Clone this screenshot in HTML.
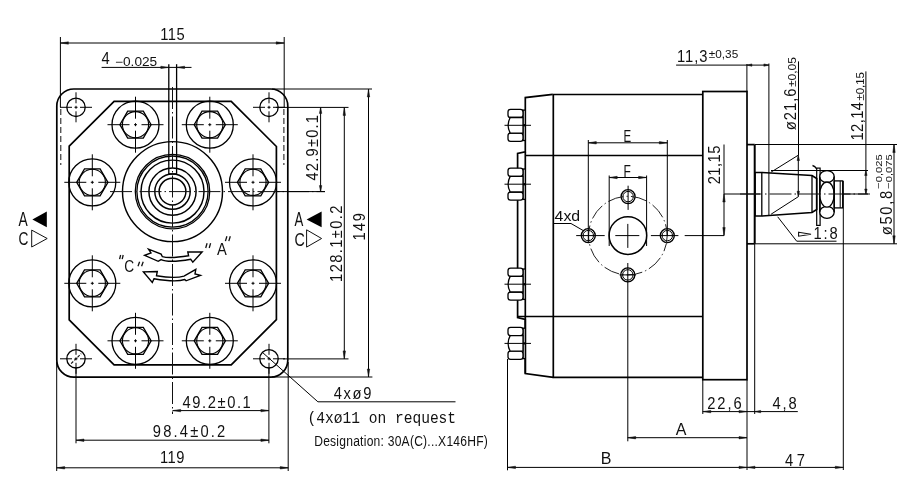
<!DOCTYPE html>
<html><head><meta charset="utf-8"><title>Gear pump drawing</title>
<style>
html,body{margin:0;padding:0;background:#fff;width:900px;height:497px;overflow:hidden;}
svg{display:block;filter:grayscale(1);}
text{font-family:"Liberation Sans",sans-serif;}
</style></head><body>
<svg width="900" height="497" viewBox="0 0 900 497">
<rect width="900" height="497" fill="#fff"/>
<rect x="56.8" y="89" width="231" height="288.2" rx="17" ry="17" stroke="#000" stroke-width="1.7" fill="none"/>
<line x1="60.8" y1="109.0" x2="60.8" y2="165.0" stroke="#111" stroke-width="1.0" fill="none" stroke-dasharray="6 3"/>
<line x1="283.9" y1="109.0" x2="283.9" y2="165.0" stroke="#111" stroke-width="1.0" fill="none" stroke-dasharray="6 3"/>
<path d="M114.1,101.3 L231.2,101.3 L276.4,146.5 L276.4,319.6 L231.2,364.8 L114.1,364.8 L69.2,319.9 L69.2,146.2 Z" stroke="#000" stroke-width="1.7" fill="none"/>
<circle cx="76.0" cy="107.3" r="9.2" stroke="#000" stroke-width="1.3" fill="none"/>
<line x1="60.0" y1="107.3" x2="72.0" y2="107.3" stroke="#000" stroke-width="1.0" fill="none"/>
<line x1="74.5" y1="107.3" x2="77.5" y2="107.3" stroke="#000" stroke-width="1.0" fill="none"/>
<line x1="80.0" y1="107.3" x2="92.0" y2="107.3" stroke="#000" stroke-width="1.0" fill="none"/>
<line x1="76.0" y1="92.3" x2="76.0" y2="103.3" stroke="#000" stroke-width="1.0" fill="none"/>
<line x1="76.0" y1="105.8" x2="76.0" y2="108.8" stroke="#000" stroke-width="1.0" fill="none"/>
<line x1="76.0" y1="111.3" x2="76.0" y2="122.3" stroke="#000" stroke-width="1.0" fill="none"/>
<circle cx="269.0" cy="107.3" r="9.2" stroke="#000" stroke-width="1.3" fill="none"/>
<line x1="253.0" y1="107.3" x2="265.0" y2="107.3" stroke="#000" stroke-width="1.0" fill="none"/>
<line x1="267.5" y1="107.3" x2="270.5" y2="107.3" stroke="#000" stroke-width="1.0" fill="none"/>
<line x1="273.0" y1="107.3" x2="285.0" y2="107.3" stroke="#000" stroke-width="1.0" fill="none"/>
<line x1="269.0" y1="92.3" x2="269.0" y2="103.3" stroke="#000" stroke-width="1.0" fill="none"/>
<line x1="269.0" y1="105.8" x2="269.0" y2="108.8" stroke="#000" stroke-width="1.0" fill="none"/>
<line x1="269.0" y1="111.3" x2="269.0" y2="122.3" stroke="#000" stroke-width="1.0" fill="none"/>
<circle cx="76.0" cy="358.8" r="9.2" stroke="#000" stroke-width="1.3" fill="none"/>
<line x1="60.0" y1="358.8" x2="72.0" y2="358.8" stroke="#000" stroke-width="1.0" fill="none"/>
<line x1="74.5" y1="358.8" x2="77.5" y2="358.8" stroke="#000" stroke-width="1.0" fill="none"/>
<line x1="80.0" y1="358.8" x2="92.0" y2="358.8" stroke="#000" stroke-width="1.0" fill="none"/>
<line x1="76.0" y1="343.8" x2="76.0" y2="354.8" stroke="#000" stroke-width="1.0" fill="none"/>
<line x1="76.0" y1="357.3" x2="76.0" y2="360.3" stroke="#000" stroke-width="1.0" fill="none"/>
<line x1="76.0" y1="362.8" x2="76.0" y2="373.8" stroke="#000" stroke-width="1.0" fill="none"/>
<circle cx="269.0" cy="358.8" r="9.2" stroke="#000" stroke-width="1.3" fill="none"/>
<line x1="253.0" y1="358.8" x2="265.0" y2="358.8" stroke="#000" stroke-width="1.0" fill="none"/>
<line x1="267.5" y1="358.8" x2="270.5" y2="358.8" stroke="#000" stroke-width="1.0" fill="none"/>
<line x1="273.0" y1="358.8" x2="285.0" y2="358.8" stroke="#000" stroke-width="1.0" fill="none"/>
<line x1="269.0" y1="343.8" x2="269.0" y2="354.8" stroke="#000" stroke-width="1.0" fill="none"/>
<line x1="269.0" y1="357.3" x2="269.0" y2="360.3" stroke="#000" stroke-width="1.0" fill="none"/>
<line x1="269.0" y1="362.8" x2="269.0" y2="373.8" stroke="#000" stroke-width="1.0" fill="none"/>
<circle cx="135.5" cy="124.7" r="23.5" stroke="#000" stroke-width="1.3" fill="none"/>
<path d="M151.1,124.7 L143.3,138.2 L127.7,138.2 L119.9,124.7 L127.7,111.2 L143.3,111.2 Z" stroke="#000" stroke-width="1.3" fill="none"/>
<circle cx="135.5" cy="124.7" r="13.1" stroke="#000" stroke-width="1.1" fill="none"/>
<line x1="107.5" y1="124.7" x2="129.5" y2="124.7" stroke="#000" stroke-width="1.0" fill="none"/>
<line x1="134.0" y1="124.7" x2="137.0" y2="124.7" stroke="#000" stroke-width="1.0" fill="none"/>
<line x1="141.5" y1="124.7" x2="163.5" y2="124.7" stroke="#000" stroke-width="1.0" fill="none"/>
<line x1="135.5" y1="96.7" x2="135.5" y2="118.7" stroke="#000" stroke-width="1.0" fill="none"/>
<line x1="135.5" y1="123.2" x2="135.5" y2="126.2" stroke="#000" stroke-width="1.0" fill="none"/>
<line x1="135.5" y1="130.7" x2="135.5" y2="152.7" stroke="#000" stroke-width="1.0" fill="none"/>
<circle cx="209.8" cy="124.7" r="23.5" stroke="#000" stroke-width="1.3" fill="none"/>
<path d="M225.4,124.7 L217.6,138.2 L202.0,138.2 L194.2,124.7 L202.0,111.2 L217.6,111.2 Z" stroke="#000" stroke-width="1.3" fill="none"/>
<circle cx="209.8" cy="124.7" r="13.1" stroke="#000" stroke-width="1.1" fill="none"/>
<line x1="181.8" y1="124.7" x2="203.8" y2="124.7" stroke="#000" stroke-width="1.0" fill="none"/>
<line x1="208.3" y1="124.7" x2="211.3" y2="124.7" stroke="#000" stroke-width="1.0" fill="none"/>
<line x1="215.8" y1="124.7" x2="237.8" y2="124.7" stroke="#000" stroke-width="1.0" fill="none"/>
<line x1="209.8" y1="96.7" x2="209.8" y2="118.7" stroke="#000" stroke-width="1.0" fill="none"/>
<line x1="209.8" y1="123.2" x2="209.8" y2="126.2" stroke="#000" stroke-width="1.0" fill="none"/>
<line x1="209.8" y1="130.7" x2="209.8" y2="152.7" stroke="#000" stroke-width="1.0" fill="none"/>
<circle cx="92.3" cy="182.3" r="23.5" stroke="#000" stroke-width="1.3" fill="none"/>
<path d="M107.9,182.3 L100.1,195.8 L84.5,195.8 L76.7,182.3 L84.5,168.8 L100.1,168.8 Z" stroke="#000" stroke-width="1.3" fill="none"/>
<circle cx="92.3" cy="182.3" r="13.1" stroke="#000" stroke-width="1.1" fill="none"/>
<line x1="64.3" y1="182.3" x2="86.3" y2="182.3" stroke="#000" stroke-width="1.0" fill="none"/>
<line x1="90.8" y1="182.3" x2="93.8" y2="182.3" stroke="#000" stroke-width="1.0" fill="none"/>
<line x1="98.3" y1="182.3" x2="120.3" y2="182.3" stroke="#000" stroke-width="1.0" fill="none"/>
<line x1="92.3" y1="154.3" x2="92.3" y2="176.3" stroke="#000" stroke-width="1.0" fill="none"/>
<line x1="92.3" y1="180.8" x2="92.3" y2="183.8" stroke="#000" stroke-width="1.0" fill="none"/>
<line x1="92.3" y1="188.3" x2="92.3" y2="210.3" stroke="#000" stroke-width="1.0" fill="none"/>
<circle cx="253.0" cy="182.3" r="23.5" stroke="#000" stroke-width="1.3" fill="none"/>
<path d="M268.6,182.3 L260.8,195.8 L245.2,195.8 L237.4,182.3 L245.2,168.8 L260.8,168.8 Z" stroke="#000" stroke-width="1.3" fill="none"/>
<circle cx="253.0" cy="182.3" r="13.1" stroke="#000" stroke-width="1.1" fill="none"/>
<line x1="225.0" y1="182.3" x2="247.0" y2="182.3" stroke="#000" stroke-width="1.0" fill="none"/>
<line x1="251.5" y1="182.3" x2="254.5" y2="182.3" stroke="#000" stroke-width="1.0" fill="none"/>
<line x1="259.0" y1="182.3" x2="281.0" y2="182.3" stroke="#000" stroke-width="1.0" fill="none"/>
<line x1="253.0" y1="154.3" x2="253.0" y2="176.3" stroke="#000" stroke-width="1.0" fill="none"/>
<line x1="253.0" y1="180.8" x2="253.0" y2="183.8" stroke="#000" stroke-width="1.0" fill="none"/>
<line x1="253.0" y1="188.3" x2="253.0" y2="210.3" stroke="#000" stroke-width="1.0" fill="none"/>
<circle cx="92.3" cy="283.3" r="23.5" stroke="#000" stroke-width="1.3" fill="none"/>
<path d="M107.9,283.3 L100.1,296.8 L84.5,296.8 L76.7,283.3 L84.5,269.8 L100.1,269.8 Z" stroke="#000" stroke-width="1.3" fill="none"/>
<circle cx="92.3" cy="283.3" r="13.1" stroke="#000" stroke-width="1.1" fill="none"/>
<line x1="64.3" y1="283.3" x2="86.3" y2="283.3" stroke="#000" stroke-width="1.0" fill="none"/>
<line x1="90.8" y1="283.3" x2="93.8" y2="283.3" stroke="#000" stroke-width="1.0" fill="none"/>
<line x1="98.3" y1="283.3" x2="120.3" y2="283.3" stroke="#000" stroke-width="1.0" fill="none"/>
<line x1="92.3" y1="255.3" x2="92.3" y2="277.3" stroke="#000" stroke-width="1.0" fill="none"/>
<line x1="92.3" y1="281.8" x2="92.3" y2="284.8" stroke="#000" stroke-width="1.0" fill="none"/>
<line x1="92.3" y1="289.3" x2="92.3" y2="311.3" stroke="#000" stroke-width="1.0" fill="none"/>
<circle cx="253.0" cy="283.3" r="23.5" stroke="#000" stroke-width="1.3" fill="none"/>
<path d="M268.6,283.3 L260.8,296.8 L245.2,296.8 L237.4,283.3 L245.2,269.8 L260.8,269.8 Z" stroke="#000" stroke-width="1.3" fill="none"/>
<circle cx="253.0" cy="283.3" r="13.1" stroke="#000" stroke-width="1.1" fill="none"/>
<line x1="225.0" y1="283.3" x2="247.0" y2="283.3" stroke="#000" stroke-width="1.0" fill="none"/>
<line x1="251.5" y1="283.3" x2="254.5" y2="283.3" stroke="#000" stroke-width="1.0" fill="none"/>
<line x1="259.0" y1="283.3" x2="281.0" y2="283.3" stroke="#000" stroke-width="1.0" fill="none"/>
<line x1="253.0" y1="255.3" x2="253.0" y2="277.3" stroke="#000" stroke-width="1.0" fill="none"/>
<line x1="253.0" y1="281.8" x2="253.0" y2="284.8" stroke="#000" stroke-width="1.0" fill="none"/>
<line x1="253.0" y1="289.3" x2="253.0" y2="311.3" stroke="#000" stroke-width="1.0" fill="none"/>
<circle cx="135.5" cy="340.8" r="23.5" stroke="#000" stroke-width="1.3" fill="none"/>
<path d="M151.1,340.8 L143.3,354.3 L127.7,354.3 L119.9,340.8 L127.7,327.3 L143.3,327.3 Z" stroke="#000" stroke-width="1.3" fill="none"/>
<circle cx="135.5" cy="340.8" r="13.1" stroke="#000" stroke-width="1.1" fill="none"/>
<line x1="107.5" y1="340.8" x2="129.5" y2="340.8" stroke="#000" stroke-width="1.0" fill="none"/>
<line x1="134.0" y1="340.8" x2="137.0" y2="340.8" stroke="#000" stroke-width="1.0" fill="none"/>
<line x1="141.5" y1="340.8" x2="163.5" y2="340.8" stroke="#000" stroke-width="1.0" fill="none"/>
<line x1="135.5" y1="312.8" x2="135.5" y2="334.8" stroke="#000" stroke-width="1.0" fill="none"/>
<line x1="135.5" y1="339.3" x2="135.5" y2="342.3" stroke="#000" stroke-width="1.0" fill="none"/>
<line x1="135.5" y1="346.8" x2="135.5" y2="368.8" stroke="#000" stroke-width="1.0" fill="none"/>
<circle cx="209.8" cy="340.8" r="23.5" stroke="#000" stroke-width="1.3" fill="none"/>
<path d="M225.4,340.8 L217.6,354.3 L202.0,354.3 L194.2,340.8 L202.0,327.3 L217.6,327.3 Z" stroke="#000" stroke-width="1.3" fill="none"/>
<circle cx="209.8" cy="340.8" r="13.1" stroke="#000" stroke-width="1.1" fill="none"/>
<line x1="181.8" y1="340.8" x2="203.8" y2="340.8" stroke="#000" stroke-width="1.0" fill="none"/>
<line x1="208.3" y1="340.8" x2="211.3" y2="340.8" stroke="#000" stroke-width="1.0" fill="none"/>
<line x1="215.8" y1="340.8" x2="237.8" y2="340.8" stroke="#000" stroke-width="1.0" fill="none"/>
<line x1="209.8" y1="312.8" x2="209.8" y2="334.8" stroke="#000" stroke-width="1.0" fill="none"/>
<line x1="209.8" y1="339.3" x2="209.8" y2="342.3" stroke="#000" stroke-width="1.0" fill="none"/>
<line x1="209.8" y1="346.8" x2="209.8" y2="368.8" stroke="#000" stroke-width="1.0" fill="none"/>
<circle cx="172.5" cy="191.6" r="50.0" stroke="#000" stroke-width="1.45" fill="none"/>
<circle cx="172.5" cy="191.6" r="37.2" stroke="#000" stroke-width="1.3" fill="none"/>
<circle cx="172.5" cy="191.6" r="35.6" stroke="#000" stroke-width="1.3" fill="none"/>
<circle cx="172.5" cy="191.6" r="31.5" stroke="#000" stroke-width="1.45" fill="none"/>
<circle cx="172.5" cy="191.6" r="23.6" stroke="#000" stroke-width="1.45" fill="none"/>
<circle cx="172.5" cy="191.6" r="17.7" stroke="#000" stroke-width="1.45" fill="none"/>
<circle cx="172.5" cy="191.6" r="13.4" stroke="#000" stroke-width="1.45" fill="none"/>
<line x1="168.8" y1="64.2" x2="168.8" y2="173.9" stroke="#000" stroke-width="1.3" fill="none"/>
<line x1="176.6" y1="64.2" x2="176.6" y2="173.9" stroke="#000" stroke-width="1.3" fill="none"/>
<line x1="168.8" y1="173.9" x2="176.6" y2="173.9" stroke="#000" stroke-width="1.3" fill="none"/>
<line x1="172.5" y1="87.0" x2="172.5" y2="414.0" stroke="#111" stroke-width="1.0" fill="none" stroke-dasharray="22 3 1.5 3"/>
<line x1="110.0" y1="191.6" x2="325.0" y2="191.6" stroke="#111" stroke-width="1.0" fill="none" stroke-dasharray="22 3 1.5 3"/>
<line x1="60.4" y1="37.0" x2="60.4" y2="107.3" stroke="#000" stroke-width="1.0" fill="none"/>
<line x1="284.2" y1="37.0" x2="284.2" y2="107.3" stroke="#000" stroke-width="1.0" fill="none"/>
<line x1="60.4" y1="43.0" x2="284.2" y2="43.0" stroke="#000" stroke-width="1.0" fill="none"/>
<path d="M60.4,43.0 L68.4,41.8 L68.4,44.2 Z" fill="#111" stroke="#111" stroke-width="0.5"/>
<path d="M284.2,43.0 L276.2,44.2 L276.2,41.8 Z" fill="#111" stroke="#111" stroke-width="0.5"/>
<text transform="translate(160.3,39.6) scale(0.92,1)" x="0" y="0" font-size="16" textLength="26.5" lengthAdjust="spacing" fill="#111">115</text>
<line x1="101.6" y1="67.4" x2="191.5" y2="67.4" stroke="#000" stroke-width="1.0" fill="none"/>
<path d="M168.8,67.4 L160.8,68.6 L160.8,66.2 Z" fill="#111" stroke="#111" stroke-width="0.5"/>
<path d="M176.6,67.4 L184.6,66.2 L184.6,68.6 Z" fill="#111" stroke="#111" stroke-width="0.5"/>
<text transform="translate(101.6,63.9) scale(0.92,1)" x="0" y="0" font-size="16" textLength="9.3" lengthAdjust="spacing" fill="#111">4</text>
<text transform="translate(115.0,65.8)" x="0" y="0" font-size="12" textLength="42.2" lengthAdjust="spacingAndGlyphs" fill="#111">−0.025</text>
<line x1="272.0" y1="89.0" x2="372.0" y2="89.0" stroke="#000" stroke-width="1.0" fill="none"/>
<line x1="276.0" y1="107.4" x2="348.5" y2="107.4" stroke="#000" stroke-width="1.0" fill="none"/>
<line x1="283.0" y1="358.9" x2="348.5" y2="358.9" stroke="#000" stroke-width="1.0" fill="none"/>
<line x1="272.0" y1="377.0" x2="372.4" y2="377.0" stroke="#000" stroke-width="1.0" fill="none"/>
<line x1="325.0" y1="191.6" x2="325.0" y2="191.6" stroke="#000" stroke-width="1.0" fill="none"/>
<line x1="277.0" y1="191.6" x2="325.0" y2="191.6" stroke="#000" stroke-width="1.0" fill="none"/>
<line x1="320.6" y1="107.4" x2="320.6" y2="191.6" stroke="#000" stroke-width="1.0" fill="none"/>
<path d="M320.6,107.4 L321.8,113.4 L319.4,113.4 Z" fill="#111" stroke="#111" stroke-width="0.5"/>
<path d="M320.6,191.6 L319.4,185.6 L321.8,185.6 Z" fill="#111" stroke="#111" stroke-width="0.5"/>
<text transform="translate(317.5,180.5) rotate(-90) scale(0.92,1)" x="0" y="0" font-size="16" textLength="71.2" lengthAdjust="spacing" fill="#111">42.9±0.1</text>
<line x1="344.3" y1="107.4" x2="344.3" y2="358.9" stroke="#000" stroke-width="1.0" fill="none"/>
<path d="M344.3,107.4 L345.5,115.4 L343.1,115.4 Z" fill="#111" stroke="#111" stroke-width="0.5"/>
<path d="M344.3,358.9 L343.1,350.9 L345.5,350.9 Z" fill="#111" stroke="#111" stroke-width="0.5"/>
<text transform="translate(341.5,281.9) rotate(-90) scale(0.92,1)" x="0" y="0" font-size="16" textLength="83.0" lengthAdjust="spacing" fill="#111">128.1±0.2</text>
<line x1="368.5" y1="89.0" x2="368.5" y2="377.0" stroke="#000" stroke-width="1.0" fill="none"/>
<path d="M368.5,89.0 L369.7,97.0 L367.3,97.0 Z" fill="#111" stroke="#111" stroke-width="0.5"/>
<path d="M368.5,377.0 L367.3,369.0 L369.7,369.0 Z" fill="#111" stroke="#111" stroke-width="0.5"/>
<text transform="translate(365.2,240.6) rotate(-90) scale(0.92,1)" x="0" y="0" font-size="16" textLength="29.9" lengthAdjust="spacing" fill="#111">149</text>
<text transform="translate(18.6,226.3)" x="0" y="0" font-size="19.8" textLength="9.2" lengthAdjust="spacingAndGlyphs" fill="#111">A</text>
<path d="M32.4,219.4 L46.8,211.4 L46.8,227.3 Z" fill="#000"/>
<text transform="translate(18.4,245.1)" x="0" y="0" font-size="18.6" textLength="9.9" lengthAdjust="spacingAndGlyphs" fill="#111">C</text>
<path d="M31.7,230.1 L47.2,238.5 L31.7,247 Z" fill="none" stroke="#111" stroke-width="1"/>
<text transform="translate(294.6,226.0)" x="0" y="0" font-size="19.5" textLength="8.8" lengthAdjust="spacingAndGlyphs" fill="#111">A</text>
<path d="M306.6,219.4 L321.6,211.5 L321.6,227.2 Z" fill="#000"/>
<text transform="translate(294.4,246.0)" x="0" y="0" font-size="19" textLength="10.3" lengthAdjust="spacingAndGlyphs" fill="#111">C</text>
<path d="M306.6,229.8 L321.6,238.5 L306.6,247.1 Z" fill="none" stroke="#111" stroke-width="1"/>
<line x1="120.6" y1="255.0" x2="119.6" y2="259.2" stroke="#111" stroke-width="1.3"/>
<line x1="123.2" y1="255.0" x2="122.2" y2="259.2" stroke="#111" stroke-width="1.3"/>
<line x1="139.6" y1="261.7" x2="138.0" y2="266.2" stroke="#111" stroke-width="1.3"/>
<line x1="143.2" y1="261.7" x2="141.6" y2="266.2" stroke="#111" stroke-width="1.3"/>
<line x1="207.1" y1="243.2" x2="205.7" y2="248.0" stroke="#111" stroke-width="1.3"/>
<line x1="210.6" y1="243.2" x2="209.2" y2="248.0" stroke="#111" stroke-width="1.3"/>
<line x1="226.9" y1="236.3" x2="225.4" y2="241.1" stroke="#111" stroke-width="1.3"/>
<line x1="230.3" y1="236.3" x2="228.8" y2="241.1" stroke="#111" stroke-width="1.3"/>
<text transform="translate(124.2,272.2)" x="0" y="0" font-size="17" textLength="9.9" lengthAdjust="spacingAndGlyphs" fill="#111">C</text>
<text transform="translate(216.9,255.0)" x="0" y="0" font-size="16.5" textLength="9.8" lengthAdjust="spacingAndGlyphs" fill="#111">A</text>
<path d="M162.4,256.7 Q169.5,258.8 188.6,255.8 L187.8,252 L202.1,252 L192.8,262.2 L190.7,259.2 Q169.1,263.2 161.1,259.6 L158.2,261.3 L144.6,255.4 L151,252.9 L148.5,249.1 L161.1,254.1 Z" stroke="#000" stroke-width="1.4" fill="none" stroke-linejoin="miter"/>
<path d="M156.5,275.7 Q174.8,278.9 184,276.1 L195.8,269.4 L195,274 L200.4,275.3 L186.1,280.8 L184.8,279.5 Q175.6,282.5 154,278.7 L152.3,282.5 L143.4,271.9 L157.3,271.5 Z" stroke="#000" stroke-width="1.4" fill="none" stroke-linejoin="miter"/>
<line x1="56.7" y1="362.0" x2="56.7" y2="471.0" stroke="#000" stroke-width="1.0" fill="none"/>
<line x1="288.2" y1="362.0" x2="288.2" y2="471.0" stroke="#000" stroke-width="1.0" fill="none"/>
<line x1="71.1" y1="363.6" x2="81.2" y2="353.6" stroke="#111" stroke-width="1.1" stroke-dasharray="3 1.5"/>
<line x1="76.0" y1="367.0" x2="76.0" y2="443.3" stroke="#000" stroke-width="1.0" fill="none"/>
<line x1="268.9" y1="367.0" x2="268.9" y2="443.3" stroke="#000" stroke-width="1.0" fill="none"/>
<line x1="56.7" y1="467.8" x2="288.2" y2="467.8" stroke="#000" stroke-width="1.0" fill="none"/>
<path d="M56.7,467.8 L64.7,466.6 L64.7,469.0 Z" fill="#111" stroke="#111" stroke-width="0.5"/>
<path d="M288.2,467.8 L280.2,469.0 L280.2,466.6 Z" fill="#111" stroke="#111" stroke-width="0.5"/>
<text transform="translate(160.0,462.9) scale(0.92,1)" x="0" y="0" font-size="16" textLength="26.5" lengthAdjust="spacing" fill="#111">119</text>
<line x1="76.0" y1="440.2" x2="268.9" y2="440.2" stroke="#000" stroke-width="1.0" fill="none"/>
<path d="M76.0,440.2 L84.0,439.0 L84.0,441.4 Z" fill="#111" stroke="#111" stroke-width="0.5"/>
<path d="M268.9,440.2 L260.9,441.4 L260.9,439.0 Z" fill="#111" stroke="#111" stroke-width="0.5"/>
<text transform="translate(152.8,436.7) scale(0.92,1)" x="0" y="0" font-size="16" textLength="78.8" lengthAdjust="spacing" fill="#111">98.4±0.2</text>
<line x1="172.7" y1="410.6" x2="268.9" y2="410.6" stroke="#000" stroke-width="1.0" fill="none"/>
<path d="M172.7,410.6 L180.7,409.4 L180.7,411.8 Z" fill="#111" stroke="#111" stroke-width="0.5"/>
<path d="M268.9,410.6 L260.9,411.8 L260.9,409.4 Z" fill="#111" stroke="#111" stroke-width="0.5"/>
<text transform="translate(182.5,407.5) scale(0.92,1)" x="0" y="0" font-size="16" textLength="74.2" lengthAdjust="spacing" fill="#111">49.2±0.1</text>
<line x1="262.0" y1="352.0" x2="317.9" y2="401.8" stroke="#000" stroke-width="1.0" fill="none"/>
<line x1="317.9" y1="401.8" x2="455.5" y2="401.8" stroke="#000" stroke-width="1.0" fill="none"/>
<text transform="translate(333.8,399.3) scale(0.92,1)" x="0" y="0" font-size="16" textLength="40.8" lengthAdjust="spacing" fill="#111">4xø9</text>
<text x="307.6" y="422.8" font-size="16" textLength="148.5" lengthAdjust="spacingAndGlyphs" fill="#111" style="font-family:'Liberation Mono',monospace">(4xø11 on request</text>
<text transform="translate(314.2,445.8) scale(0.78,1)" x="0" y="0" font-size="15.5" textLength="222.6" lengthAdjust="spacing" fill="#111">Designation: 30A(C)...X146HF)</text>
<line x1="552.8" y1="94.5" x2="702.8" y2="94.5" stroke="#000" stroke-width="1.7" fill="none"/>
<line x1="552.8" y1="377.3" x2="702.8" y2="377.3" stroke="#000" stroke-width="1.7" fill="none"/>
<line x1="553.3" y1="94.5" x2="553.3" y2="377.3" stroke="#000" stroke-width="1.7" fill="none"/>
<line x1="525.3" y1="155.5" x2="702.8" y2="155.5" stroke="#000" stroke-width="1.7" fill="none"/>
<line x1="518.0" y1="316.5" x2="702.8" y2="316.5" stroke="#000" stroke-width="1.7" fill="none"/>
<path d="M552.8,94.3 L525.3,97.6 L525.3,151.9 L517.6,153.5 L517.6,317.5 L525.3,319.5 L525.3,373.6 L553.3,377.3" stroke="#000" stroke-width="1.7" fill="none"/>
<line x1="525.3" y1="151.9" x2="525.3" y2="373.6" stroke="#000" stroke-width="1.7" fill="none"/>
<rect x="702.8" y="91.5" width="44.2" height="288.2" stroke="#000" stroke-width="1.7" fill="none"/>
<line x1="747.0" y1="144.6" x2="754.7" y2="144.6" stroke="#000" stroke-width="1.7" fill="none"/>
<line x1="747.0" y1="243.8" x2="754.7" y2="243.8" stroke="#000" stroke-width="1.7" fill="none"/>
<line x1="754.7" y1="144.6" x2="754.7" y2="243.8" stroke="#000" stroke-width="2" fill="none"/>
<path d="M755.0,172.5 L761.8,172.5 L812.0,175.5 L816.7,178.5 L816.7,209.5 L812.0,212.5 L761.8,216.0 L755.0,216.0 Z" stroke="#000" stroke-width="1.7" fill="none"/>
<line x1="812.0" y1="175.5" x2="812.0" y2="212.5" stroke="#000" stroke-width="1.3" fill="none"/>
<line x1="761.8" y1="172.5" x2="761.8" y2="216.0" stroke="#000" stroke-width="1.3" fill="none"/>
<rect x="816.7" y="168.1" width="3.4" height="57.3" fill="none" stroke="#000" stroke-width="1.2"/>
<path d="M816.7,169 Q815,166 812.5,165.5" stroke="#000" stroke-width="1.3" fill="none"/>
<ellipse cx="826.95" cy="176.6" rx="7.25" ry="6" stroke="#000" stroke-width="1.3" fill="#fff"/>
<ellipse cx="826.95" cy="212.3" rx="7.25" ry="6" stroke="#000" stroke-width="1.3" fill="#fff"/>
<ellipse cx="826.95" cy="194.6" rx="7.25" ry="12.6" stroke="#000" stroke-width="1.3" fill="#fff"/>
<line x1="819.7" y1="176.6" x2="819.7" y2="212.3" stroke="#000" stroke-width="1.3"/>
<line x1="834.2" y1="176.6" x2="834.2" y2="212.3" stroke="#000" stroke-width="1.3"/>
<rect x="834.2" y="180.9" width="8.5" height="27" fill="none" stroke="#000" stroke-width="1.3"/>
<line x1="840.2" y1="180.9" x2="840.2" y2="207.9" stroke="#000" stroke-width="1.0" fill="none"/>
<rect x="523.0" y="110.1" width="2.3" height="30.4" stroke="#000" stroke-width="1.3" fill="#fff"/>
<rect x="508.0" y="109.3" width="15.0" height="8.2" rx="2.6" stroke="#000" stroke-width="1.3" fill="#fff"/>
<rect x="508.0" y="133.1" width="15.0" height="8.2" rx="2.6" stroke="#000" stroke-width="1.3" fill="#fff"/>
<path d="M523.0,117.5 L510.2,117.5 Q506.0,125.3 510.2,133.1 L523.0,133.1 Z" stroke="#000" stroke-width="1.3" fill="#fff"/>
<line x1="504.5" y1="125.3" x2="531.0" y2="125.3" stroke="#000" stroke-width="1.0" fill="none"/>
<circle cx="524.2" cy="125.3" r="1.2" fill="#000"/>
<rect x="523.0" y="169.0" width="2.3" height="30.4" stroke="#000" stroke-width="1.3" fill="#fff"/>
<rect x="508.0" y="168.2" width="15.0" height="8.2" rx="2.6" stroke="#000" stroke-width="1.3" fill="#fff"/>
<rect x="508.0" y="192.0" width="15.0" height="8.2" rx="2.6" stroke="#000" stroke-width="1.3" fill="#fff"/>
<path d="M523.0,176.4 L510.2,176.4 Q506.0,184.2 510.2,192.0 L523.0,192.0 Z" stroke="#000" stroke-width="1.3" fill="#fff"/>
<line x1="504.5" y1="184.2" x2="531.0" y2="184.2" stroke="#000" stroke-width="1.0" fill="none"/>
<circle cx="524.2" cy="184.2" r="1.2" fill="#000"/>
<rect x="523.0" y="269.0" width="2.3" height="30.4" stroke="#000" stroke-width="1.3" fill="#fff"/>
<rect x="508.0" y="268.2" width="15.0" height="8.2" rx="2.6" stroke="#000" stroke-width="1.3" fill="#fff"/>
<rect x="508.0" y="292.0" width="15.0" height="8.2" rx="2.6" stroke="#000" stroke-width="1.3" fill="#fff"/>
<path d="M523.0,276.4 L510.2,276.4 Q506.0,284.2 510.2,292.0 L523.0,292.0 Z" stroke="#000" stroke-width="1.3" fill="#fff"/>
<line x1="504.5" y1="284.2" x2="531.0" y2="284.2" stroke="#000" stroke-width="1.0" fill="none"/>
<circle cx="524.2" cy="284.2" r="1.2" fill="#000"/>
<rect x="523.0" y="328.2" width="2.3" height="30.4" stroke="#000" stroke-width="1.3" fill="#fff"/>
<rect x="508.0" y="327.4" width="15.0" height="8.2" rx="2.6" stroke="#000" stroke-width="1.3" fill="#fff"/>
<rect x="508.0" y="351.2" width="15.0" height="8.2" rx="2.6" stroke="#000" stroke-width="1.3" fill="#fff"/>
<path d="M523.0,335.6 L510.2,335.6 Q506.0,343.4 510.2,351.2 L523.0,351.2 Z" stroke="#000" stroke-width="1.3" fill="#fff"/>
<line x1="504.5" y1="343.4" x2="531.0" y2="343.4" stroke="#000" stroke-width="1.0" fill="none"/>
<circle cx="524.2" cy="343.4" r="1.2" fill="#000"/>
<circle cx="627.9" cy="235.6" r="18.8" stroke="#000" stroke-width="1.5" fill="none"/>
<circle cx="588.3" cy="235.6" r="7.0" stroke="#000" stroke-width="1.4" fill="none"/>
<circle cx="588.3" cy="235.6" r="5.2" stroke="#000" stroke-width="1.0" fill="none"/>
<circle cx="667.3" cy="235.6" r="7.0" stroke="#000" stroke-width="1.4" fill="none"/>
<circle cx="667.3" cy="235.6" r="5.2" stroke="#000" stroke-width="1.0" fill="none"/>
<circle cx="628.1" cy="196.6" r="7.0" stroke="#000" stroke-width="1.4" fill="none"/>
<circle cx="628.1" cy="196.6" r="5.2" stroke="#000" stroke-width="1.0" fill="none"/>
<circle cx="627.8" cy="274.9" r="7.0" stroke="#000" stroke-width="1.4" fill="none"/>
<circle cx="627.8" cy="274.9" r="5.2" stroke="#000" stroke-width="1.0" fill="none"/>
<circle cx="627.9" cy="235.6" r="39.3" fill="none" stroke="#222" stroke-width="1" stroke-dasharray="16 3 1.5 3"/>
<line x1="576.2" y1="235.6" x2="604.7" y2="235.6" stroke="#000" stroke-width="1.0" fill="none"/>
<line x1="615.3" y1="235.6" x2="639.3" y2="235.6" stroke="#000" stroke-width="1.0" fill="none"/>
<line x1="650.9" y1="235.6" x2="678.4" y2="235.6" stroke="#000" stroke-width="1.0" fill="none"/>
<line x1="684.7" y1="235.6" x2="724.0" y2="235.6" stroke="#000" stroke-width="1.0" fill="none"/>
<line x1="628.1" y1="185.7" x2="628.1" y2="209.9" stroke="#000" stroke-width="1.0" fill="none"/>
<line x1="627.8" y1="223.9" x2="627.8" y2="247.9" stroke="#000" stroke-width="1.0" fill="none"/>
<line x1="627.8" y1="263.0" x2="627.8" y2="288.0" stroke="#000" stroke-width="1.0" fill="none"/>
<line x1="619.5" y1="274.9" x2="636.0" y2="274.9" stroke="#000" stroke-width="1.0" fill="none"/>
<line x1="588.3" y1="140.0" x2="588.3" y2="243.0" stroke="#000" stroke-width="1.0" fill="none"/>
<line x1="667.3" y1="140.0" x2="667.3" y2="236.0" stroke="#000" stroke-width="1.0" fill="none"/>
<line x1="588.3" y1="142.8" x2="667.3" y2="142.8" stroke="#000" stroke-width="1.0" fill="none"/>
<path d="M588.3,142.8 L596.3,141.6 L596.3,144.0 Z" fill="#111" stroke="#111" stroke-width="0.5"/>
<path d="M667.3,142.8 L659.3,144.0 L659.3,141.6 Z" fill="#111" stroke="#111" stroke-width="0.5"/>
<text transform="translate(623.4,141.8) scale(0.72,1)" x="0" y="0" font-size="16" fill="#111">E</text>
<line x1="609.2" y1="175.5" x2="609.2" y2="246.0" stroke="#000" stroke-width="1.0" fill="none"/>
<line x1="646.6" y1="175.5" x2="646.6" y2="246.0" stroke="#000" stroke-width="1.0" fill="none"/>
<line x1="609.2" y1="177.5" x2="646.6" y2="177.5" stroke="#000" stroke-width="1.0" fill="none"/>
<path d="M609.2,177.5 L617.2,176.3 L617.2,178.7 Z" fill="#111" stroke="#111" stroke-width="0.5"/>
<path d="M646.6,177.5 L638.6,178.7 L638.6,176.3 Z" fill="#111" stroke="#111" stroke-width="0.5"/>
<text transform="translate(623.6,176.6) scale(0.75,1)" x="0" y="0" font-size="16" fill="#111">F</text>
<line x1="554.0" y1="223.5" x2="571.0" y2="223.5" stroke="#000" stroke-width="1.0" fill="none"/>
<line x1="571.0" y1="223.5" x2="584.0" y2="231.0" stroke="#000" stroke-width="1.0" fill="none"/>
<text transform="translate(554.6,221.0)" x="0" y="0" font-size="15.2" textLength="25.6" lengthAdjust="spacingAndGlyphs" fill="#111">4xd</text>
<line x1="724.0" y1="144.5" x2="724.0" y2="235.5" stroke="#000" stroke-width="1.0" fill="none"/>
<path d="M724.0,194.0 L725.2,202.0 L722.8,202.0 Z" fill="#111" stroke="#111" stroke-width="0.5"/>
<path d="M724.0,235.5 L722.8,227.5 L725.2,227.5 Z" fill="#111" stroke="#111" stroke-width="0.5"/>
<line x1="724.0" y1="194.0" x2="760.0" y2="194.0" stroke="#000" stroke-width="1.0" fill="none"/>
<text transform="translate(719.5,184.3) rotate(-90) scale(0.92,1)" x="0" y="0" font-size="16" textLength="42.0" lengthAdjust="spacing" fill="#111">21,15</text>
<line x1="740.0" y1="194.0" x2="870.0" y2="194.0" stroke="#111" stroke-width="1.0" fill="none" stroke-dasharray="22 3 1.5 3"/>
<line x1="676.1" y1="65.1" x2="746.9" y2="65.1" stroke="#000" stroke-width="1.0" fill="none"/>
<line x1="746.9" y1="65.1" x2="768.9" y2="65.1" stroke="#000" stroke-width="1.0" fill="none"/>
<path d="M746.9,65.1 L751.9,63.9 L751.9,66.3 Z" fill="#111" stroke="#111" stroke-width="0.5"/>
<path d="M768.9,65.1 L763.9,66.3 L763.9,63.9 Z" fill="#111" stroke="#111" stroke-width="0.5"/>
<line x1="746.9" y1="64.0" x2="746.9" y2="91.5" stroke="#000" stroke-width="1.0" fill="none"/>
<line x1="768.9" y1="63.5" x2="768.9" y2="215.0" stroke="#000" stroke-width="1.0" fill="none"/>
<text transform="translate(676.9,62.2) scale(0.92,1)" x="0" y="0" font-size="16" textLength="33.3" lengthAdjust="spacing" fill="#111">11,3</text>
<text transform="translate(708.8,58.1)" x="0" y="0" font-size="11" textLength="29.4" lengthAdjust="spacingAndGlyphs" fill="#111">±0,35</text>
<line x1="798.5" y1="61.4" x2="798.5" y2="155.0" stroke="#000" stroke-width="1.0" fill="none"/>
<line x1="798.3" y1="155.0" x2="798.3" y2="196.5" stroke="#000" stroke-width="1.0" fill="none"/>
<path d="M798.3,155.5 L799.5,160.5 L797.1,160.5 Z" fill="#111" stroke="#111" stroke-width="0.5"/>
<line x1="771.1" y1="172.1" x2="798.6" y2="155.0" stroke="#000" stroke-width="1.0" fill="none"/>
<line x1="771.1" y1="214.2" x2="798.6" y2="196.5" stroke="#000" stroke-width="1.0" fill="none"/>
<path d="M798.3,196.3 L797.1,191.3 L799.5,191.3 Z" fill="#111" stroke="#111" stroke-width="0.5"/>
<text transform="translate(795.5,130.2) rotate(-90) scale(0.92,1)" x="0" y="0" font-size="16" textLength="45.4" lengthAdjust="spacing" fill="#111">ø21,6</text>
<text transform="translate(795.8,87.1) rotate(-90)" x="0" y="0" font-size="10.5" textLength="30.0" lengthAdjust="spacingAndGlyphs" fill="#111">±0,05</text>
<line x1="771.0" y1="170.5" x2="868.0" y2="170.5" stroke="#000" stroke-width="1.0" fill="none"/>
<line x1="843.0" y1="194.0" x2="868.0" y2="194.0" stroke="#000" stroke-width="1.0" fill="none"/>
<line x1="865.9" y1="71.4" x2="865.9" y2="194.0" stroke="#000" stroke-width="1.0" fill="none"/>
<path d="M865.9,170.5 L867.1,175.5 L864.7,175.5 Z" fill="#111" stroke="#111" stroke-width="0.5"/>
<path d="M865.9,194.0 L864.7,189.0 L867.1,189.0 Z" fill="#111" stroke="#111" stroke-width="0.5"/>
<text transform="translate(863.3,140.6) rotate(-90) scale(0.92,1)" x="0" y="0" font-size="16" textLength="42.0" lengthAdjust="spacing" fill="#111">12,14</text>
<text transform="translate(863.5,100.6) rotate(-90)" x="0" y="0" font-size="10.5" textLength="28.5" lengthAdjust="spacingAndGlyphs" fill="#111">±0,15</text>
<line x1="755.0" y1="144.5" x2="897.0" y2="144.5" stroke="#000" stroke-width="1.0" fill="none"/>
<line x1="755.0" y1="243.8" x2="897.0" y2="243.8" stroke="#000" stroke-width="1.0" fill="none"/>
<line x1="894.0" y1="144.5" x2="894.0" y2="243.8" stroke="#000" stroke-width="1.0" fill="none"/>
<path d="M894.0,144.5 L895.2,152.5 L892.8,152.5 Z" fill="#111" stroke="#111" stroke-width="0.5"/>
<path d="M894.0,243.8 L892.8,235.8 L895.2,235.8 Z" fill="#111" stroke="#111" stroke-width="0.5"/>
<text transform="translate(891.6,235.3) rotate(-90) scale(0.92,1)" x="0" y="0" font-size="16" textLength="48.4" lengthAdjust="spacing" fill="#111">ø50,8</text>
<text transform="translate(882.2,188.9) rotate(-90)" x="0" y="0" font-size="9.5" textLength="34.6" lengthAdjust="spacingAndGlyphs" fill="#111">−0,025</text>
<text transform="translate(892.2,188.9) rotate(-90)" x="0" y="0" font-size="9.5" textLength="34.6" lengthAdjust="spacingAndGlyphs" fill="#111">−0,075</text>
<line x1="777.7" y1="216.8" x2="796.7" y2="241.2" stroke="#000" stroke-width="1.0" fill="none"/>
<line x1="796.7" y1="241.2" x2="836.5" y2="241.2" stroke="#000" stroke-width="1.0" fill="none"/>
<path d="M798.6,232.2 L811,234.2 L798.6,236.2 Z" fill="none" stroke="#111" stroke-width="1.1"/>
<text transform="translate(813.6,239.4) scale(0.92,1)" x="0" y="0" font-size="16" textLength="26.1" lengthAdjust="spacing" fill="#111">1:8</text>
<line x1="843.3" y1="181.0" x2="843.3" y2="470.0" stroke="#000" stroke-width="1.0" fill="none"/>
<line x1="747.0" y1="380.0" x2="747.0" y2="470.0" stroke="#000" stroke-width="1.0" fill="none"/>
<line x1="702.8" y1="380.0" x2="702.8" y2="414.0" stroke="#000" stroke-width="1.0" fill="none"/>
<line x1="754.7" y1="244.0" x2="754.7" y2="414.0" stroke="#000" stroke-width="1.0" fill="none"/>
<line x1="702.8" y1="411.6" x2="747.0" y2="411.6" stroke="#000" stroke-width="1.0" fill="none"/>
<path d="M702.8,411.6 L710.8,410.4 L710.8,412.8 Z" fill="#111" stroke="#111" stroke-width="0.5"/>
<path d="M747.0,411.6 L739.0,412.8 L739.0,410.4 Z" fill="#111" stroke="#111" stroke-width="0.5"/>
<text transform="translate(707.2,408.7) scale(0.92,1)" x="0" y="0" font-size="16" textLength="37.4" lengthAdjust="spacing" fill="#111">22,6</text>
<line x1="747.0" y1="411.6" x2="797.8" y2="411.6" stroke="#000" stroke-width="1.0" fill="none"/>
<path d="M754.7,411.6 L760.7,410.4 L760.7,412.8 Z" fill="#111" stroke="#111" stroke-width="0.5"/>
<text transform="translate(772.4,408.7) scale(0.92,1)" x="0" y="0" font-size="16" textLength="26.4" lengthAdjust="spacing" fill="#111">4,8</text>
<line x1="627.8" y1="288.0" x2="627.8" y2="441.3" stroke="#000" stroke-width="1.0" fill="none"/>
<line x1="627.7" y1="437.7" x2="747.0" y2="437.7" stroke="#000" stroke-width="1.0" fill="none"/>
<path d="M627.7,437.7 L635.7,436.5 L635.7,438.9 Z" fill="#111" stroke="#111" stroke-width="0.5"/>
<path d="M747.0,437.7 L739.0,438.9 L739.0,436.5 Z" fill="#111" stroke="#111" stroke-width="0.5"/>
<text transform="translate(681.0,434.8)" x="0" y="0" font-size="16" text-anchor="middle" fill="#111">A</text>
<line x1="507.5" y1="359.0" x2="507.5" y2="470.3" stroke="#000" stroke-width="1.0" fill="none"/>
<line x1="507.5" y1="467.4" x2="843.3" y2="467.4" stroke="#000" stroke-width="1.0" fill="none"/>
<path d="M507.5,467.4 L515.5,466.2 L515.5,468.6 Z" fill="#111" stroke="#111" stroke-width="0.5"/>
<path d="M747.0,467.4 L739.0,468.6 L739.0,466.2 Z" fill="#111" stroke="#111" stroke-width="0.5"/>
<path d="M747.0,467.4 L755.0,466.2 L755.0,468.6 Z" fill="#111" stroke="#111" stroke-width="0.5"/>
<path d="M843.3,467.4 L835.3,468.6 L835.3,466.2 Z" fill="#111" stroke="#111" stroke-width="0.5"/>
<text transform="translate(606.0,463.8)" x="0" y="0" font-size="16" text-anchor="middle" fill="#111">B</text>
<text transform="translate(785.0,465.8) scale(0.92,1)" x="0" y="0" font-size="16" textLength="21.7" lengthAdjust="spacing" fill="#111">47</text>
</svg>
</body></html>
